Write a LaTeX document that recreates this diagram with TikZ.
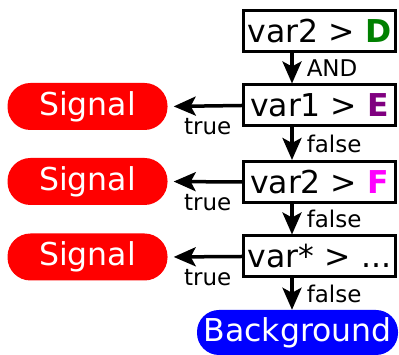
\documentclass[tikz,border=0pt]{standalone}
\usepackage{fontspec}
\setmainfont{DejaVu Sans}
\usetikzlibrary{arrows.meta}
\definecolor{dgreen}{RGB}{0,128,0}
\definecolor{dpurple}{RGB}{128,0,128}
\definecolor{dmag}{RGB}{255,0,255}
\definecolor{sigred}{RGB}{255,0,0}
\definecolor{bgblue}{RGB}{0,0,255}
\begin{document}
\begin{tikzpicture}[x=1pt,y=1pt,
  cond/.style={draw=black, line width=3pt, fill=white, minimum width=152pt, minimum height=41pt, inner sep=0pt, font=\fontsize{31.5}{36}\selectfont},
  sig/.style={fill=sigred, text=white, rounded corners=23pt, minimum width=160pt, minimum height=47pt, inner sep=0pt, font=\fontsize{31.5}{36}\selectfont},
  bgnode/.style={fill=bgblue, text=white, rounded corners=22pt, minimum width=201pt, minimum height=45pt, inner sep=0pt, font=\fontsize{31.5}{36}\selectfont},
  arr/.style={line width=3.5pt, -{Stealth[length=22pt,width=19pt,inset=5pt]}},
  lbl/.style={inner sep=0pt, font=\fontsize{23}{27}\selectfont}
]
\useasboundingbox (0,0) rectangle (399,355);
\node[cond] (b1) at (319.5,324) {var2 > \textbf{\color{dgreen}D}};
\node[cond] (b2) at (319.5,249.5) {var1 > \textbf{\color{dpurple}E}};
\node[cond] (b3) at (319.5,173) {var2 > \textbf{\color{dmag}F}};
\node[cond] (b4) at (319.5,98.5) {var* > ...};
\node[bgnode] (bg) at (297.5,22.5) {Background};
\node[sig] (s1) at (87.5,248.5) {Signal};
\node[sig] (s2) at (87.5,173.5) {Signal};
\node[sig] (s3) at (87.5,98) {Signal};
\coordinate (ax) at (292,0);
\draw[arr] (b1.south -| ax) -- node[lbl, anchor=west, xshift=13pt]{AND} (b2.north -| ax);
\draw[arr] (b2.south -| ax) -- node[lbl, anchor=west, xshift=13pt]{false} (b3.north -| ax);
\draw[arr] (b3.south -| ax) -- node[lbl, anchor=west, xshift=13pt]{false} (b4.north -| ax);
\draw[arr] (b4.south -| ax) -- node[lbl, anchor=west, xshift=13pt]{false} (bg.north -| ax);
\draw[arr, shorten >=6pt] (b2.west) -- (s1.east) node[lbl, pos=0, anchor=north east, xshift=-9pt, yshift=-11pt]{true};
\draw[arr, shorten >=6pt] (b3.west) -- (s2.east) node[lbl, pos=0, anchor=north east, xshift=-9pt, yshift=-11pt]{true};
\draw[arr, shorten >=6pt] (b4.west) -- (s3.east) node[lbl, pos=0, anchor=north east, xshift=-9pt, yshift=-11pt]{true};
\end{tikzpicture}
\end{document}
